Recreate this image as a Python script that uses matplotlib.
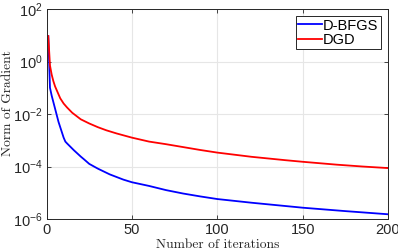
import numpy as np
import matplotlib
matplotlib.use('Agg')
import matplotlib.pyplot as plt
from matplotlib.ticker import FixedLocator, FuncFormatter, NullLocator

# values (log10 of gradient norm)
dgd_iter = [1, 2, 3, 4, 5, 6, 8, 10, 12, 15, 20, 25, 30, 35, 41, 50, 60, 70,
            80, 90, 100, 120, 140, 150, 170, 185, 200]
dgd_log = [0.97, -0.15, -0.5, -0.75, -0.95, -1.1, -1.4, -1.6, -1.75, -1.95,
           -2.2, -2.36, -2.5, -2.62, -2.74, -2.9, -3.05, -3.15, -3.26, -3.37,
           -3.47, -3.63, -3.76, -3.82, -3.93, -4.0, -4.06]

bfgs_iter = [1, 2, 3, 4, 5, 6, 7, 8, 9, 10, 11, 12, 14, 16, 18, 20, 22, 25,
             30, 37, 45, 50, 60, 70, 80, 90, 100, 120, 150, 175, 200]
bfgs_log = [0.97, -1.0, -1.3, -1.55, -1.8, -2.05, -2.3, -2.5, -2.7, -2.9,
            -3.05, -3.12, -3.25, -3.38, -3.5, -3.62, -3.73, -3.9, -4.08, -4.3,
            -4.5, -4.6, -4.74, -4.9, -5.03, -5.14, -5.24, -5.38, -5.57, -5.7,
            -5.82]

xticks = [0, 50, 100, 150, 200]
yticks = [1e-6, 1e-4, 1e-2, 1e0, 1e2]

plt.rcParams['font.family'] = ['Liberation Sans', 'DejaVu Sans']
plt.rcParams['mathtext.default'] = 'regular'

fig = plt.figure(figsize=(3.98, 2.52), dpi=100)
ax = fig.add_axes([0.117, 0.131, 0.858, 0.833])

ax.plot(bfgs_iter, 10 ** np.array(bfgs_log), color='#0000ff', lw=1.3, label='D-BFGS')
ax.plot(dgd_iter, 10 ** np.array(dgd_log), color='#ff0000', lw=1.3, label='DGD')

ax.set_yscale('log')
ax.set_xlim(0, 200)
ax.set_ylim(1e-6, 1e2)
ax.xaxis.set_major_locator(FixedLocator(xticks))
ax.yaxis.set_major_locator(FixedLocator(yticks))
ax.yaxis.set_minor_locator(NullLocator())
ax.yaxis.set_major_formatter(FuncFormatter(lambda v, p: '$10^{%d}$' % round(np.log10(v))))

ax.grid(True, color='#e6e6e6', lw=0.8)
ax.set_axisbelow(True)
ax.tick_params(direction='in', top=True, right=True, labelsize=10.5,
               colors='#262626', length=3, width=0.6, pad=3)
for s in ax.spines.values():
    s.set_color('#262626')
    s.set_linewidth(0.7)

ax.set_xlabel('Number of iterations', family='cmr10', fontsize=9.7, labelpad=1, color='#262626')
ax.set_ylabel('Norm of Gradient', family='cmr10', fontsize=9.7, color='#262626')
ax.yaxis.set_label_coords(-0.094, 0.55)

leg = ax.legend(loc='upper right', fontsize=10.5, fancybox=False, framealpha=1,
                edgecolor='#262626', handlelength=1.6, handletextpad=0.1,
                borderpad=0.15, labelspacing=0.05, borderaxespad=0.5)
leg.get_frame().set_linewidth(0.7)

fig.savefig('out.png', dpi=100)
